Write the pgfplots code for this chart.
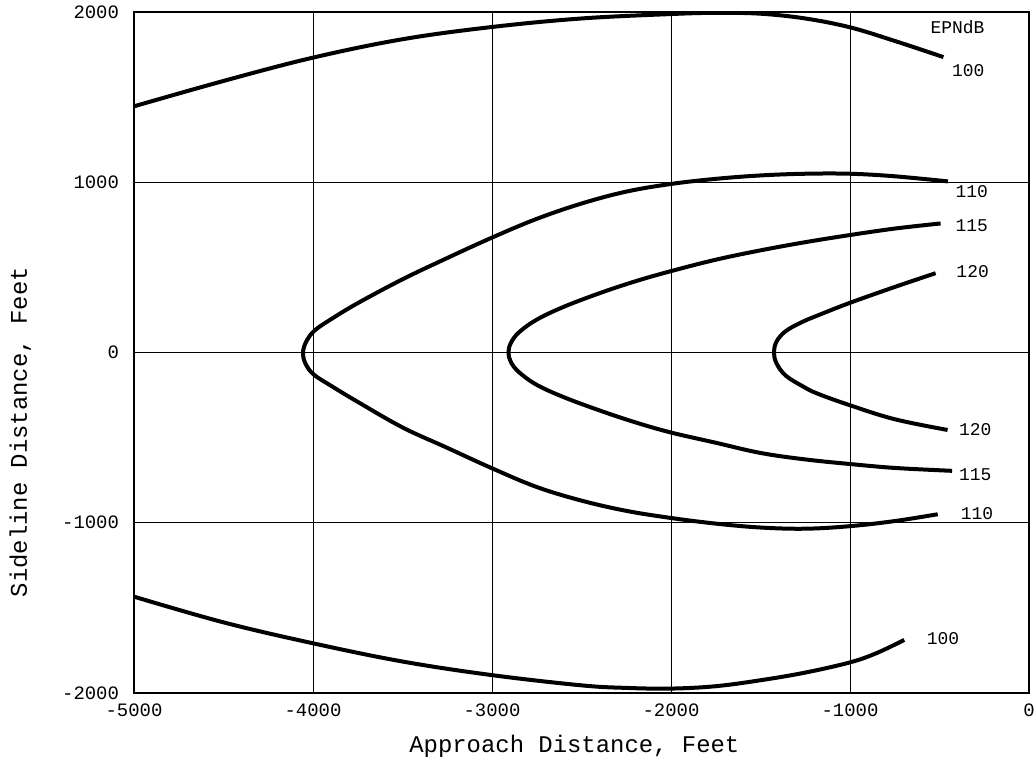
\documentclass[border=0pt]{standalone}
\usepackage{pgfplots}
\pgfplotsset{compat=1.18}
\usepackage{fontspec}
\setmainfont{Liberation Mono}
\tikzset{cont/.style={black, line width=2bp, smooth, tension=0.6, mark=none}}
\begin{document}
\begin{tikzpicture}
\begin{axis}[
 scale only axis, width=447.5bp, height=340.5bp,
 xmin=-5000, xmax=0, ymin=-2000, ymax=2000,
 xtick={-5000,-4000,-3000,-2000,-1000,0},
 xticklabels={-5000,-4000,-3000,-2000,-1000,0},
 ytick={-2000,-1000,0,1000,2000},
 yticklabels={-2000,-1000,0,1000,2000},
 major tick length=0pt,
 grid=major, grid style={black, line width=0.5bp},
 axis line style={black, line width=1bp},
 tick label style={font=\fontsize{9.5}{10}\selectfont},
 yticklabel style={xshift=-4bp},
 xticklabel style={yshift=-2bp},
 xlabel={Approach Distance, Feet}, ylabel={Sideline Distance, Feet},
 label style={font=\fontsize{12}{13}\selectfont},
 xlabel style={at={(axis description cs:0.492,-0.078)}, anchor=center},
 ylabel style={at={(axis description cs:-0.127,0.383)}, anchor=center},
]
% 100 upper
\addplot[cont] coordinates {(-5000,1446) (-4500,1595) (-4000,1732) (-3500,1840) (-3000,1912) (-2500,1962) (-2000,1988) (-1750,1995) (-1500,1990) (-1250,1962) (-1000,1910) (-750,1830) (-478,1735)};
% 100 lower
\addplot[cont] coordinates {(-5000,-1434) (-4500,-1585) (-4000,-1708) (-3500,-1815) (-3000,-1895) (-2500,-1955) (-2250,-1970) (-2000,-1974) (-1750,-1960) (-1500,-1925) (-1250,-1880) (-1000,-1820) (-850,-1765) (-697,-1688)};
% 110
\addplot[cont] coordinates {(-453,1005) (-750,1035) (-1000,1050) (-1250,1050) (-1500,1040) (-1750,1020) (-2000,990) (-2250,945) (-2500,875) (-2750,785) (-3000,675) (-3250,555) (-3500,430) (-3750,290) (-3900,195) (-3990,130) (-4035,70) (-4056,0) (-4040,-70) (-3995,-130) (-3900,-195) (-3750,-290) (-3500,-440) (-3250,-560) (-3000,-680) (-2750,-790) (-2500,-870) (-2250,-930) (-2000,-972) (-1750,-1005) (-1500,-1028) (-1250,-1035) (-1000,-1020) (-750,-990) (-510,-950)};
% 115
\addplot[cont] coordinates {(-494,758) (-750,728) (-1000,690) (-1250,648) (-1500,600) (-1750,545) (-2000,478) (-2200,418) (-2400,348) (-2600,268) (-2750,193) (-2850,118) (-2895,55) (-2908,0) (-2895,-55) (-2850,-115) (-2750,-190) (-2600,-262) (-2400,-340) (-2200,-410) (-2000,-470) (-1750,-530) (-1500,-590) (-1250,-628) (-1000,-655) (-750,-678) (-430,-695)};
% 120
\addplot[cont] coordinates {(-522,466) (-750,385) (-1000,292) (-1170,222) (-1270,178) (-1360,125) (-1410,65) (-1425,0) (-1410,-65) (-1360,-135) (-1270,-195) (-1185,-240) (-1000,-310) (-750,-392) (-455,-455)};
\node[font=\fontsize{9}{10}\selectfont] at (axis cs:-400,1912) {EPNdB};
\node[font=\fontsize{9}{10}\selectfont] at (axis cs:-340,1656) {100};
\node[font=\fontsize{9}{10}\selectfont] at (axis cs:-320,945) {110};
\node[font=\fontsize{9}{10}\selectfont] at (axis cs:-320,746) {115};
\node[font=\fontsize{9}{10}\selectfont] at (axis cs:-315,478) {120};
\node[font=\fontsize{9}{10}\selectfont] at (axis cs:-300,-455) {120};
\node[font=\fontsize{9}{10}\selectfont] at (axis cs:-300,-717) {115};
\node[font=\fontsize{9}{10}\selectfont] at (axis cs:-290,-945) {110};
\node[font=\fontsize{9}{10}\selectfont] at (axis cs:-480,-1680) {100};
\end{axis}
\pgfresetboundingbox
\path[use as bounding box] ([xshift=-67bp,yshift=-33bp]current axis.south west) rectangle ([xshift=3bp,yshift=6bp]current axis.north east);
\end{tikzpicture}
\end{document}
